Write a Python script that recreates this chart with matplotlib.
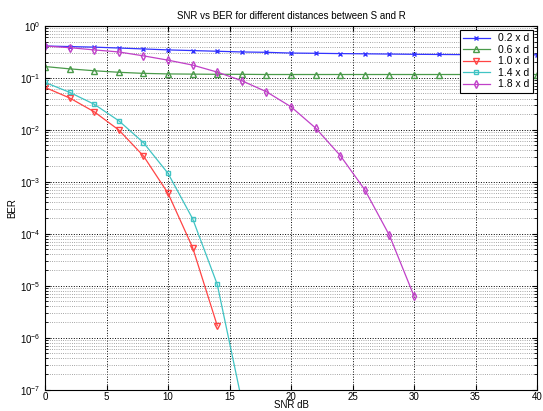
import matplotlib
matplotlib.use("Agg")
import matplotlib.pyplot as plt

# SNR vs BER
snr = list(range(0, 41, 2))

ber_02 = [0.41, 0.40, 0.39, 0.375, 0.36, 0.345, 0.335, 0.325, 0.315, 0.31, 0.30,
          0.297, 0.293, 0.29, 0.287, 0.284, 0.282, 0.28, 0.279, 0.278, 0.277]
ber_06 = [0.165, 0.149, 0.137, 0.128, 0.122, 0.119, 0.118, 0.117, 0.117, 0.116, 0.116,
          0.116, 0.116, 0.116, 0.116, 0.116, 0.116, 0.116, 0.116, 0.116, 0.116]
snr_10 = [0, 2, 4, 6, 8, 10, 12, 14]
ber_10 = [0.0655, 0.041, 0.0222, 0.0099, 0.00314, 6.0e-4, 5.4e-5, 1.7e-6]
snr_14 = [0, 2, 4, 6, 8, 10, 12, 14, 16]
ber_14 = [0.0817, 0.0526, 0.031, 0.0149, 0.00566, 0.00145, 1.94e-4, 1.06e-5, 6e-8]
snr_18 = list(range(0, 31, 2))
ber_18 = [0.41, 0.381, 0.345, 0.315, 0.265, 0.219, 0.176, 0.129, 0.088, 0.054,
          0.0277, 0.0108, 0.0032, 7.0e-4, 9.3e-5, 6.3e-6]

labels = ["0.2 x d", "0.6 x d", "1.0 x d", "1.4 x d", "1.8 x d"]
yticks = [1e-7, 1e-6, 1e-5, 1e-4, 1e-3, 1e-2, 1e-1, 1e0]

plt.rcParams['font.family'] = ['Liberation Sans', 'DejaVu Sans']
fig = plt.figure(figsize=(5.43, 4.11), dpi=100)
ax = fig.add_axes([0.083, 0.052, 0.906, 0.885])

ax.semilogy(snr, ber_02, '-x', color='#3333ff', ms=3, lw=0.9, label=labels[0])
ax.semilogy(snr, ber_06, '-^', color='#4a9a4a', ms=4, lw=0.9, mfc='none', label=labels[1])
ax.semilogy(snr_10, ber_10, '-v', color='#ff4444', ms=4, lw=0.9, mfc='none', label=labels[2])
ax.semilogy(snr_14, ber_14, '-s', color='#40c4c4', ms=3.5, lw=0.9, mfc='none', label=labels[3])
ax.semilogy(snr_18, ber_18, '-d', color='#c040c8', ms=4, lw=0.9, mfc='none', label=labels[4])

ax.set_xlim(0, 40)
ax.set_ylim(1e-7, 1)
ax.set_xticks(range(0, 41, 5))
ax.set_yticks(yticks)
ax.grid(True, which='major', ls=':', color='black', lw=0.7)
ax.grid(True, which='minor', ls=':', color='#888888', lw=0.6)
ax.tick_params(direction='in', labelsize=7, top=True, right=True, which='both')
ax.tick_params(axis='x', pad=1.5)

ax.set_title("SNR vs BER for different distances between S and R", fontsize=7, pad=5)
ax.set_xlabel("SNR dB", fontsize=7, labelpad=-1)
ax.set_ylabel("BER", fontsize=7, labelpad=2)

leg = ax.legend(loc='upper right', fontsize=7.5, fancybox=False, framealpha=1,
                edgecolor='black', borderaxespad=0.4, handlelength=2.6,
                labelspacing=0.15, borderpad=0.3)
leg.get_frame().set_linewidth(0.8)

fig.savefig("out.png", dpi=100)
